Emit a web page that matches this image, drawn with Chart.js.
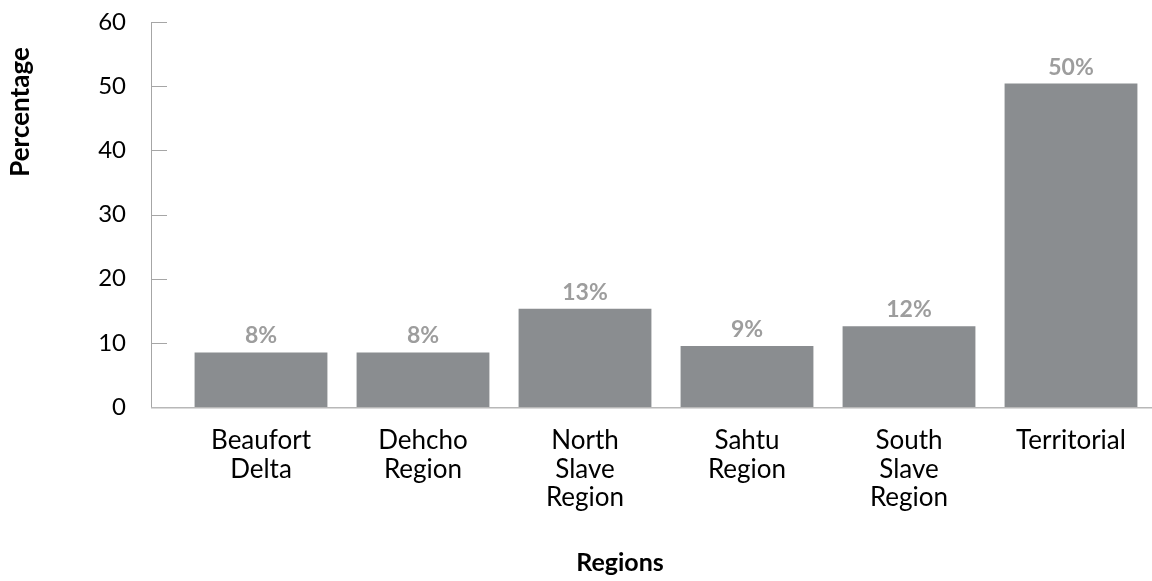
<!DOCTYPE html>
<html>
<head>
<meta charset="utf-8">
<script src="https://cdn.jsdelivr.net/npm/chart.js@4.4.1/dist/chart.umd.min.js"></script>
<style>
  html, body { margin: 0; padding: 0; background: #fff; overflow: hidden; }
</style>
</head>
<body>
<canvas id="chart" width="1152" height="581"></canvas>
<script>
// categories shown under the bars (multi-line, as in the original)
const regions = [
    ['Beaufort', 'Delta'],
    ['Dehcho', 'Region'],
    ['North', 'Slave', 'Region'],
    ['Sahtu', 'Region'],
    ['South', 'Slave', 'Region'],
    ['Territorial']
];
// bar heights
const percentages = [8.5, 8.5, 15.3, 9.5, 12.6, 50.4];
// the text printed above each bar
const pct_labels = ['8%', '8%', '13%', '9%', '12%', '50%'];
const y_ticks = [0, 10, 20, 30, 40, 50, 60];

const FONT = 'Lato';

// axis line, tick marks, titles and value labels drawn the Excel way
const excel_look = {
    id: 'excel_look',
    afterDatasetsDraw: function( chart ) {
        const ctx = chart.ctx;
        const area = chart.chartArea;
        const y = chart.scales.y;
        const axis_x = area.left - 29;

        ctx.save();

        // left axis + inward tick marks
        ctx.strokeStyle = '#a6a6a6';
        ctx.lineWidth = 1;
        ctx.beginPath();
        ctx.moveTo(axis_x + 0.5, y.getPixelForValue(60));
        ctx.lineTo(axis_x + 0.5, area.bottom + 1);
        y_ticks.forEach( t => {
            const py = Math.round(y.getPixelForValue(t)) + 0.5;
            ctx.moveTo(axis_x, py);
            ctx.lineTo(axis_x + 16, py);
        } );
        ctx.stroke();

        // bottom axis
        ctx.strokeStyle = '#b8b8b8';
        ctx.lineWidth = 1.5;
        ctx.beginPath();
        ctx.moveTo(axis_x, area.bottom + 0.75);
        ctx.lineTo(chart.width, area.bottom + 0.75);
        ctx.stroke();

        // value labels above bars
        ctx.fillStyle = '#9d9d9d';
        ctx.font = 'bold 23px ' + FONT;
        ctx.textAlign = 'center';
        ctx.textBaseline = 'alphabetic';
        chart.getDatasetMeta(0).data.forEach( (bar, i) => {
            ctx.fillText(pct_labels[i], bar.x, bar.y - 9);
        } );

        // axis titles
        ctx.fillStyle = '#000';
        ctx.textBaseline = 'middle';
        ctx.font = 'bold 25px ' + FONT;
        ctx.fillText('Regions', 620, 563);

        ctx.font = 'bold 26px ' + FONT;
        ctx.translate(21, 112);
        ctx.rotate(-Math.PI / 2);
        ctx.fillText('Percentage', 0, 0);

        ctx.restore();
    }
};

const the_chart = new Chart(document.getElementById('chart').getContext('2d'), {
    type: 'bar',
    data: {
        labels: regions,
        datasets: [{
            label: 'Percentage',
            data: percentages,
            backgroundColor: '#8a8d90',
            borderWidth: 0,
            categoryPercentage: 1.0,
            barPercentage: 0.82
        }]
    },
    options: {
        responsive: false,
        animation: false,
        layout: {
            padding: { top: 22, right: 0, bottom: 0, left: 0 }
        },
        plugins: {
            legend: { display: false },
            tooltip: { enabled: false }
        },
        scales: {
            x: {
                grid: { display: false, drawTicks: false },
                border: { display: false },
                ticks: {
                    color: '#000',
                    font: { family: FONT, size: 26, lineHeight: 1.08 },
                    padding: 20,
                    maxRotation: 0,
                    autoSkip: false
                },
                afterFit: function( scale ) { scale.height = 174; }
            },
            y: {
                min: 0,
                max: 60,
                grid: { display: false, drawTicks: false },
                border: { display: false },
                ticks: {
                    stepSize: 10,
                    color: '#000',
                    font: { family: FONT, size: 24 },
                    padding: 54
                },
                afterFit: function( scale ) {
                    // the big label gap should not push the plot down
                    scale.width = 180;
                    scale.paddingTop = 0;
                    scale.paddingBottom = 0;
                }
            }
        }
    },
    plugins: [excel_look]
});
</script>
</body>
</html>
